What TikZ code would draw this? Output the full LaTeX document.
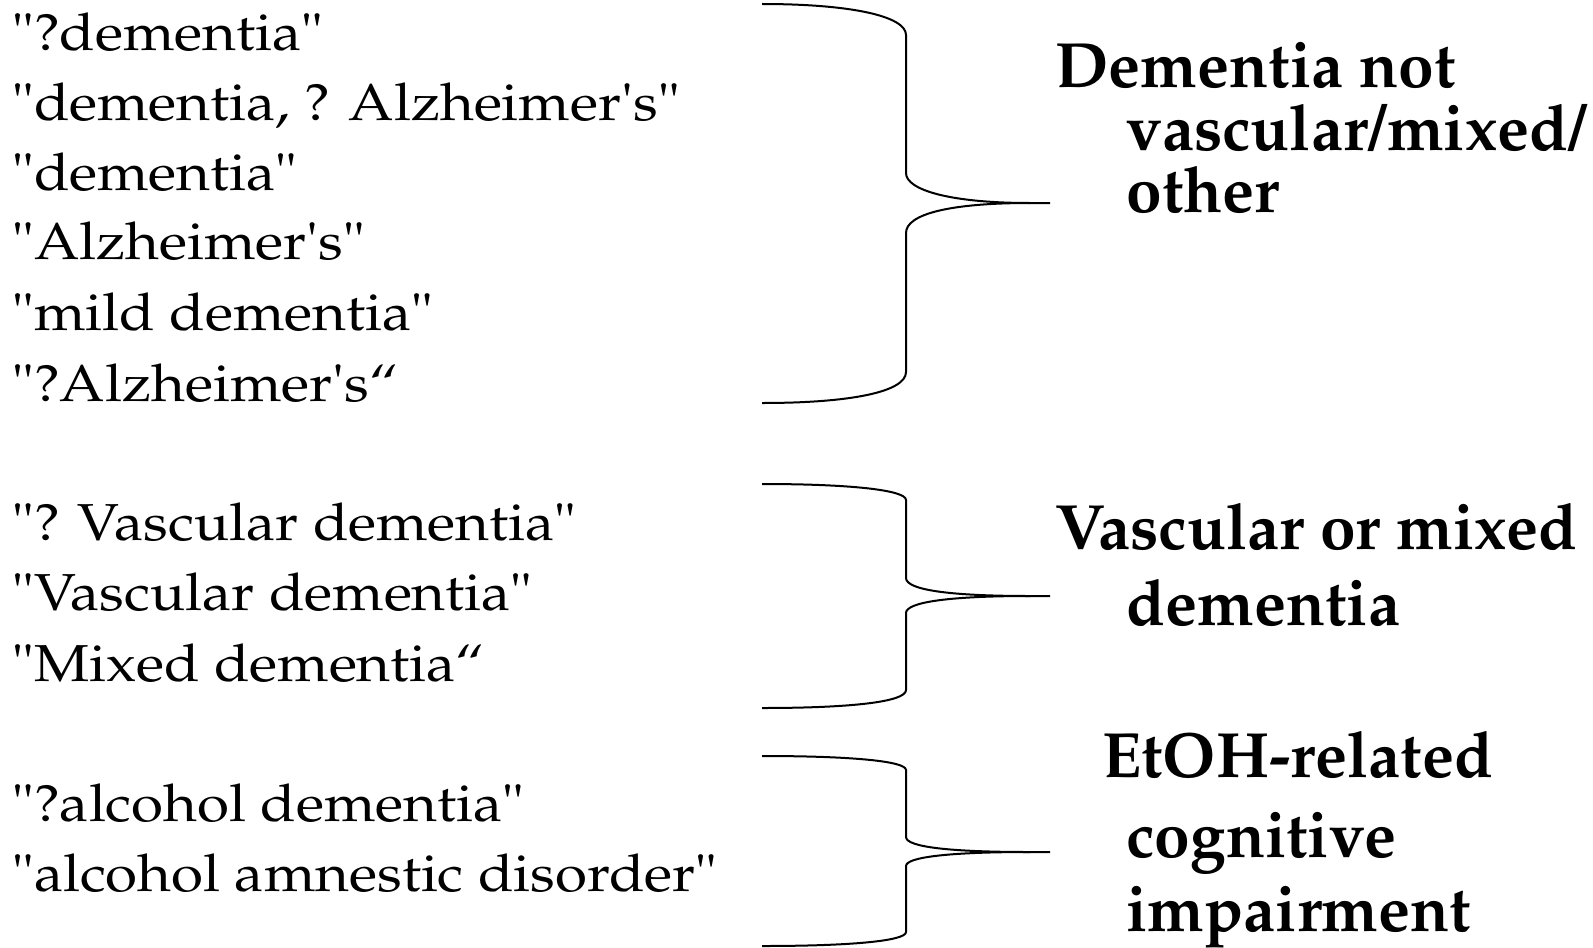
\documentclass[tikz,border=0pt]{standalone}
\usepackage[T1]{fontenc}
\renewcommand{\rmdefault}{ppl}
\usepackage{textcomp}
\newcommand{\ap}{\textquotesingle}
\begin{document}
\begin{tikzpicture}[x=0.5pt,y=-0.5pt,
  item/.style={anchor=base west, inner sep=0pt, xscale=1.12, transform shape, font=\fontsize{26}{30}\selectfont},
  cat/.style={anchor=base west, inner sep=0pt, font=\fontsize{32}{36}\selectfont\bfseries},
  brace/.style={line width=1pt, line join=round}]
\path[use as bounding box, fill=white] (0,0) rectangle (1593,947);
% left items
\node[item] (a1) at (12,51)  {"?dementia"};
\node[item] (a2) at (12,120) {"dementia, ? Alzheimer\ap s"};
\node[item] (a3) at (12,190) {"dementia"};
\node[item] (a4) at (12,259) {"Alzheimer\ap s"};
\node[item] (a5) at (12,330) {"mild dementia"};
\node[item] (a6) at (12,401) {"?Alzheimer\ap s``};
\node[item] (b1) at (12,540) {"? Vascular dementia"};
\node[item] (b2) at (12,610) {"Vascular dementia"};
\node[item] (b3) at (12,681) {"Mixed dementia``};
\node[item] (c1) at (12,821) {"?alcohol dementia"};
\node[item] (c2) at (12,891) {"alcohol amnestic disorder"};
% categories
\node[cat] (k1a) at (1055,88)  {Dementia not};
\node[cat] (k1b) at (1126,150) {vascular/mixed/};
\node[cat] (k1c) at (1126,212) {other};
\node[cat] (k2a) at (1055,549) {Vascular or mixed};
\node[cat] (k2b) at (1126,625) {dementia};
\node[cat] (k3a) at (1102,777) {EtOH-related};
\node[cat] (k3b) at (1126,857) {cognitive};
\node[cat] (k3c) at (1126,931) {impairment};
% braces
\draw[brace] (762,4) .. controls (850,4) and (906,16) .. (906,35) -- (906,173)
  .. controls (906,190) and (950,203) .. (1030,203) -- (1050,203);
\draw[brace] (1030,203) .. controls (950,203) and (906,214) .. (906,233) -- (906,372)
  .. controls (906,392) and (850,403) .. (762,403);
\draw[brace] (762,484) .. controls (850,484) and (906,490) .. (906,500) -- (906,578)
  .. controls (906,590) and (950,596) .. (1030,596) -- (1050,596);
\draw[brace] (1030,596) .. controls (950,596) and (906,602) .. (906,613) -- (906,690)
  .. controls (906,702) and (850,708) .. (762,708);
\draw[brace] (762,756) .. controls (850,756) and (906,761) .. (906,770) -- (906,837)
  .. controls (906,847) and (950,852) .. (1030,852) -- (1050,852);
\draw[brace] (1030,852) .. controls (950,852) and (906,857) .. (906,866) -- (906,932)
  .. controls (906,941) and (850,946) .. (762,946);
\end{tikzpicture}
\end{document}
